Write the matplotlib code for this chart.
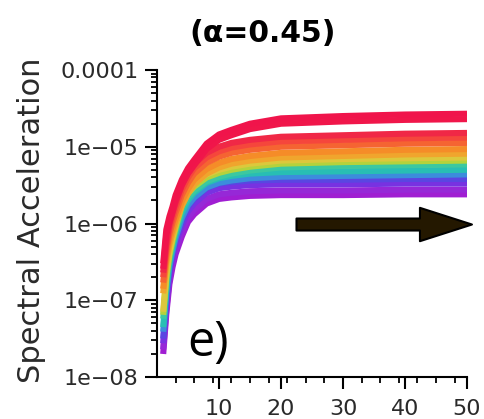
import numpy as np
import matplotlib
matplotlib.use("Agg")
from matplotlib import pyplot as plt, ticker

# periods along the x axis
periods = [1, 1.5, 2, 2.5, 3, 4, 5, 6, 8, 10, 12, 15, 20, 30, 40, 50]

# log10(spectral acceleration), one row per curve, top (red) to bottom (purple)
log_sa = [
    [-6.52, -6.08, -5.91, -5.78, -5.63, -5.43, -5.28, -5.17, -4.96, -4.84, -4.78, -4.70, -4.63, -4.60, -4.58, -4.57],
    [-6.59, -6.15, -5.98, -5.85, -5.70, -5.50, -5.35, -5.24, -5.03, -4.91, -4.85, -4.77, -4.70, -4.67, -4.65, -4.64],
    [-6.64, -6.25, -6.01, -5.86, -5.73, -5.50, -5.34, -5.22, -5.08, -5.00, -4.95, -4.91, -4.87, -4.85, -4.83, -4.82],
    [-6.70, -6.31, -6.07, -5.92, -5.79, -5.56, -5.40, -5.28, -5.14, -5.06, -5.01, -4.97, -4.93, -4.91, -4.89, -4.88],
    [-6.77, -6.38, -6.14, -5.99, -5.86, -5.63, -5.47, -5.35, -5.21, -5.13, -5.08, -5.04, -5.00, -4.98, -4.96, -4.95],
    [-6.85, -6.46, -6.22, -6.07, -5.94, -5.71, -5.55, -5.43, -5.29, -5.21, -5.16, -5.12, -5.08, -5.06, -5.04, -5.03],
    [-6.91, -6.52, -6.28, -6.13, -6.00, -5.77, -5.61, -5.49, -5.35, -5.27, -5.22, -5.18, -5.14, -5.12, -5.10, -5.09],
    [-7.15, -6.67, -6.37, -6.18, -6.02, -5.72, -5.57, -5.48, -5.36, -5.30, -5.26, -5.22, -5.18, -5.16, -5.15, -5.14],
    [-7.19, -6.71, -6.41, -6.22, -6.06, -5.76, -5.61, -5.52, -5.40, -5.34, -5.30, -5.26, -5.22, -5.20, -5.19, -5.18],
    [-7.24, -6.76, -6.46, -6.27, -6.11, -5.81, -5.66, -5.57, -5.45, -5.39, -5.35, -5.31, -5.27, -5.25, -5.24, -5.23],
    [-7.35, -6.85, -6.50, -6.30, -6.13, -5.87, -5.70, -5.60, -5.47, -5.41, -5.38, -5.35, -5.33, -5.32, -5.31, -5.30],
    [-7.41, -6.91, -6.56, -6.36, -6.19, -5.93, -5.76, -5.66, -5.53, -5.47, -5.44, -5.41, -5.39, -5.38, -5.37, -5.36],
    [-7.50, -6.98, -6.59, -6.37, -6.20, -5.97, -5.78, -5.68, -5.54, -5.48, -5.46, -5.44, -5.43, -5.43, -5.42, -5.42],
    [-7.56, -7.04, -6.65, -6.43, -6.26, -6.03, -5.84, -5.74, -5.60, -5.54, -5.52, -5.50, -5.49, -5.49, -5.48, -5.48],
    [-7.64, -7.12, -6.73, -6.51, -6.34, -6.11, -5.92, -5.82, -5.68, -5.62, -5.60, -5.58, -5.57, -5.57, -5.56, -5.56],
    [-7.70, -7.18, -6.79, -6.57, -6.40, -6.17, -5.98, -5.88, -5.74, -5.68, -5.66, -5.64, -5.63, -5.63, -5.62, -5.62],
]

curve_colors = [
    "#F0144B", "#F0164A", "#F02846", "#F5463C", "#F56432", "#F58C28", "#F0A52D", "#DCC83C",
    "#B4D23C", "#3CC8A0", "#28BEB4", "#3C8CDC", "#5A46E1", "#7832E1", "#9628D7", "#A01ED2",
]

ytick_vals = [1e-8, 1e-7, 1e-6, 1e-5, 1e-4]
ytick_labels = ["1e\u221208", "1e\u221207", "1e\u221206", "1e\u221205", "0.0001"]
xtick_vals = [10, 20, 30, 40, 50]
xminor_vals = list(range(3, 50, 3))

label_color = "#2a2a2a"

fig = plt.figure(figsize=(4.84, 4.19), dpi=100)
ax = fig.add_axes([157 / 484, 1 - 377 / 419, 310 / 484, 307 / 419])

# purple first so the red curves sit on top
for row, col in reversed(list(zip(log_sa, curve_colors))):
    ax.plot(periods, 10 ** np.array(row), color=col, lw=4.4, solid_capstyle="butt", zorder=2)

ax.set_yscale("log")
ax.set_xlim(0, 50)
ax.set_ylim(1e-8, 1e-4)

ax.yaxis.set_major_locator(ticker.FixedLocator(ytick_vals))
ax.yaxis.set_major_formatter(ticker.FixedFormatter(ytick_labels))
ax.yaxis.set_minor_locator(ticker.LogLocator(base=10, subs=np.arange(2, 10)))
ax.yaxis.set_minor_formatter(ticker.NullFormatter())
ax.xaxis.set_major_locator(ticker.FixedLocator(xtick_vals))
ax.xaxis.set_minor_locator(ticker.FixedLocator(xminor_vals))

for s in ["top", "right"]:
    ax.spines[s].set_visible(False)
for s in ["left", "bottom"]:
    ax.spines[s].set_linewidth(1.5)

ax.tick_params(which="major", direction="out", length=8.5, width=1.5, labelsize=16,
               labelcolor=label_color, labelfontfamily="DejaVu Sans")
ax.tick_params(which="minor", direction="out", length=4, width=1.3)
ax.tick_params(axis="x", which="major", pad=7)
ax.tick_params(axis="y", which="major", pad=5)

fig.text(32 / 484, 1 - 220 / 419, "Spectral Acceleration", rotation=90, ha="center", va="center",
         fontsize=22, color=label_color, family="DejaVu Sans")

fig.text(263 / 484, 1 - 34 / 419, "(\u03b1=0.45)", ha="center", va="center",
         fontsize=21.5, fontweight="bold", family="DejaVu Sans")

fig.text(187 / 484, 1 - 356 / 419, "e)", ha="left", va="baseline", fontsize=35,
         family="Open Sans", color="black")

ax.annotate("", xy=(50.8, 9.7e-7), xytext=(22.5, 9.7e-7), annotation_clip=False,
            arrowprops=dict(arrowstyle="simple, head_length=1.56, head_width=1.0, tail_width=0.36",
                            mutation_scale=24, fc="#241800", ec="black", lw=1.5,
                            shrinkA=0, shrinkB=0))

fig.savefig("out.png", dpi=100)
